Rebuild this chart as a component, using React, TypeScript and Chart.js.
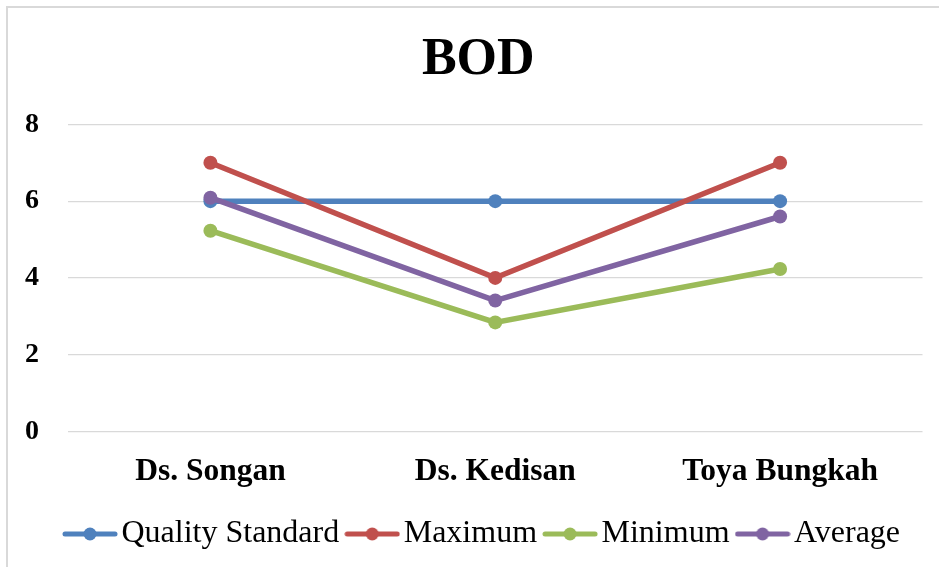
import React, { useEffect, useRef } from "react";
import { Chart, registerables } from "chart.js";

Chart.register(...registerables);

const categories = ["Ds. Songan", "Ds. Kedisan", "Toya Bungkah"];
const qualityStandard = [6, 6, 6];
const maximum = [7, 4, 7];
const minimum = [5.23, 2.84, 4.23];
const average = [6.09, 3.41, 5.6];
const yTicks = [0, 2, 4, 6, 8];

const SERIF = "'Liberation Serif', 'Times New Roman', serif";

const COLORS = {
  qs: "#4F81BD",
  max: "#C0504D",
  min: "#9BBB59",
  avg: "#8064A2",
};

// Legend swatch: a short line with a dot in the middle
function legendSwatch(color: string): HTMLCanvasElement {
  const c = document.createElement("canvas");
  c.width = 56;
  c.height = 16;
  const ctx = c.getContext("2d")!;
  ctx.strokeStyle = color;
  ctx.lineWidth = 5;
  ctx.lineCap = "round";
  ctx.beginPath();
  ctx.moveTo(3, 8);
  ctx.lineTo(53, 8);
  ctx.stroke();
  ctx.fillStyle = color;
  ctx.beginPath();
  ctx.arc(28, 8, 6.5, 0, Math.PI * 2);
  ctx.fill();
  return c;
}

const frame = {
  id: "frame",
  beforeDraw(chart: Chart) {
    const ctx = chart.ctx;
    ctx.save();
    ctx.fillStyle = "#ffffff";
    ctx.fillRect(0, 0, chart.width, chart.height);
    ctx.strokeStyle = "#d9d9d9";
    ctx.lineWidth = 2;
    ctx.strokeRect(7, 7, chart.width + 10, chart.height + 10);
    ctx.restore();
  },
};

// Let the y tick labels use the space left of the layout padding,
// and nudge the legend row to the right
const adjustBoxes = {
  id: "adjustBoxes",
  afterLayout(chart: Chart) {
    const y: any = chart.scales.y;
    if (y) y.left = 0;
    const lg: any = chart.legend;
    if (lg) {
      lg.left += 9;
      lg.right += 9;
    }
  },
};

export default function App() {
  const ref = useRef<HTMLCanvasElement | null>(null);

  useEffect(() => {
    if (!ref.current) return;
    const line = (label: string, data: number[], color: string, order: number) => ({
      label,
      data,
      borderColor: color,
      backgroundColor: color,
      borderWidth: 5.5,
      pointRadius: 7,
      pointHoverRadius: 7,
      pointBackgroundColor: color,
      pointBorderWidth: 0,
      tension: 0,
      order,
      swatch: legendSwatch(color),
    });

    const chart = new Chart(ref.current, {
      type: "line",
      data: {
        labels: categories,
        datasets: [
          line("Quality Standard", qualityStandard, COLORS.qs, 4),
          line("Maximum", maximum, COLORS.max, 3),
          line("Minimum", minimum, COLORS.min, 2),
          line("Average", average, COLORS.avg, 1),
        ] as any,
      },
      options: {
        responsive: false,
        animation: false,
        layout: { padding: { left: 34, right: 16.5, top: 0, bottom: 7 } },
        plugins: {
          tooltip: { enabled: false },
          title: {
            display: true,
            text: "BOD",
            color: "#000",
            font: { family: SERIF, size: 52, weight: "bold", lineHeight: 1.2 },
            padding: { top: 29, bottom: 33 },
          },
          legend: {
            position: "bottom",
            labels: {
              color: "#000",
              font: { family: SERIF, size: 32 },
              usePointStyle: true,
              pointStyleWidth: 31,
              padding: 17.5,
              generateLabels(chart: Chart) {
                const items = Chart.defaults.plugins.legend.labels.generateLabels(chart);
                items.sort((a: any, b: any) => a.datasetIndex - b.datasetIndex);
                items.forEach((it: any) => {
                  it.pointStyle = (chart.data.datasets[it.datasetIndex] as any).swatch;
                });
                return items;
              },
            },
          },
        },
        scales: {
          x: {
            offset: true,
            grid: { display: false },
            border: { display: false },
            ticks: {
              color: "#000",
              font: { family: SERIF, size: 31.5, weight: "bold" },
              padding: 14,
              maxRotation: 0,
            },
            afterFit(scale: any) {
              scale.height = 69.1;
            },
          },
          y: {
            min: 0,
            max: 8,
            afterBuildTicks(scale: any) {
              scale.ticks = yTicks.map((v) => ({ value: v }));
            },
            grid: { color: "#d9d9d9", lineWidth: 1.2, drawTicks: false },
            border: { display: false },
            ticks: {
              color: "#000",
              font: { family: SERIF, size: 28, weight: "bold" },
              padding: 29,
            },
            afterFit(scale: any) {
              scale.width = 34;
            },
          },
        },
      },
      plugins: [frame, adjustBoxes],
    });
    return () => chart.destroy();
  }, []);

  return (
    <div style={{ position: "fixed", left: 0, top: 0, width: 939, height: 567, background: "#fff" }}>
      <canvas ref={ref} width={939} height={567} />
    </div>
  );
}
